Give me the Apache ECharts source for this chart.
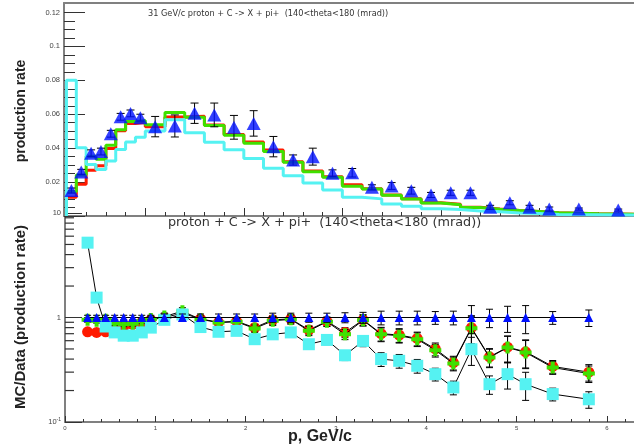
<!DOCTYPE html>
<html>
<head>
<meta charset="utf-8">
<script src="https://cdn.jsdelivr.net/npm/echarts@6/dist/echarts.min.js"></script>
<style>
  html, body { margin: 0; padding: 0; background: #fff; }
  #chart { width: 634px; height: 447px; }
</style>
</head>
<body>
<div id="chart"></div>
<script>
// Momentum bins (GeV/c): centres and edges
const pCenters = [0.25, 0.35, 0.45, 0.55, 0.65, 0.75, 0.85, 0.95,
  1.1, 1.3, 1.5, 1.7, 1.9, 2.1, 2.3, 2.5, 2.7, 2.9, 3.1, 3.3, 3.5, 3.7, 3.9,
  4.1, 4.3, 4.5, 4.7, 4.9, 5.1, 5.4, 5.8];
const binEdges = [0.2, 0.3, 0.4, 0.5, 0.6, 0.7, 0.8, 0.9, 1.0,
  1.2, 1.4, 1.6, 1.8, 2.0, 2.2, 2.4, 2.6, 2.8, 3.0, 3.2, 3.4, 3.6, 3.8,
  4.0, 4.2, 4.4, 4.6, 4.8, 5.0, 5.2, 5.6, 6.0];

// Measured production rate and its error
const dataRate = [0.0150, 0.0260, 0.0370, 0.0380, 0.0485, 0.0585, 0.0605, 0.0580,
  0.0527, 0.0531, 0.0606, 0.0596, 0.0523, 0.0546, 0.0409, 0.0330, 0.0350, 0.0252,
  0.0255, 0.0169, 0.0177, 0.0149, 0.0124, 0.0137, 0.0137, 0.0051, 0.0078, 0.0051,
  0.0041, 0.0041, 0.0035];
const dataErr = [0.0015, 0.0015, 0.002, 0.002, 0.002, 0.002, 0.002, 0.002,
  0.006, 0.0065, 0.006, 0.007, 0.007, 0.0075, 0.006, 0.003, 0.005, 0.002,
  0.0025, 0.0015, 0.002, 0.002, 0.0015, 0.0015, 0.0015, 0.0012, 0.0012, 0.0012,
  0.0012, 0.0006, 0.0006];

// Simulated production rate, three models (histograms)
const mcRed = [0.0110, 0.0187, 0.0270, 0.0296, 0.0398, 0.0503, 0.0545, 0.0551,
  0.0527, 0.0584, 0.0588, 0.0536, 0.0481, 0.0437, 0.0389, 0.0320, 0.0266, 0.0232,
  0.0184, 0.0161, 0.0124, 0.0101, 0.0078, 0.0069, 0.0051, 0.0041, 0.0033, 0.0027,
  0.0019, 0.0014, 0.0010];
const mcGreen = [0.0143, 0.0242, 0.0352, 0.0334, 0.0417, 0.0509, 0.0557, 0.0563,
  0.0538, 0.0611, 0.0582, 0.0533, 0.0476, 0.0429, 0.0380, 0.0317, 0.0261, 0.0229,
  0.0176, 0.0159, 0.0122, 0.0100, 0.0077, 0.0067, 0.0050, 0.0040, 0.0032, 0.0026,
  0.0019, 0.0014, 0.0010];
const mcCyan = [0.0800, 0.0403, 0.0303, 0.0274, 0.0325, 0.0392, 0.0436, 0.0464,
  0.0501, 0.0568, 0.0491, 0.0435, 0.0390, 0.0339, 0.0282, 0.0238, 0.0194, 0.0154,
  0.0111, 0.0101, 0.0071, 0.0057, 0.0043, 0.0039, 0.0029, 0.0025, 0.0018, 0.0015,
  0.0009, 0.0008, 0.0006];

// MC / Data ratios
const ratioRed = [0.73, 0.72, 0.73, 0.78, 0.82, 0.86, 0.90, 0.95,
  1.00, 1.10, 0.97, 0.90, 0.92, 0.80, 0.95, 0.97, 0.76, 0.92,
  0.72, 0.95, 0.70, 0.68, 0.63, 0.50, 0.37, 0.80, 0.42, 0.52, 0.47, 0.34, 0.30];
const ratioGreen = [0.95, 0.93, 0.95, 0.88, 0.86, 0.87, 0.92, 0.97,
  1.02, 1.15, 0.96, 0.895, 0.91, 0.785, 0.93, 0.96, 0.745, 0.91,
  0.69, 0.94, 0.69, 0.67, 0.62, 0.486, 0.363, 0.79, 0.414, 0.516, 0.463, 0.332, 0.291];
const ratioCyan = [5.2, 1.55, 0.82, 0.72, 0.67, 0.67, 0.72, 0.80,
  0.95, 1.07, 0.81, 0.73, 0.745, 0.62, 0.69, 0.72, 0.555, 0.61,
  0.435, 0.597, 0.40, 0.385, 0.345, 0.287, 0.214, 0.497, 0.23, 0.287, 0.23, 0.185, 0.165];
const ratioBlue = [1, 1, 1, 1, 1, 1, 1, 1, 1, 1, 1, 1, 1, 1, 1, 1,
  1, 1, 1, 1, 1, 1, 1, 1, 1, 1, 1, 1, 1, 1, 1];
// relative uncertainty of the data, used for every ratio
const ratioRelErr = [0.05, 0.05, 0.05, 0.05, 0.05, 0.05, 0.05, 0.05,
  0.08, 0.08, 0.08, 0.08, 0.08, 0.08, 0.1, 0.1, 0.1, 0.1,
  0.11, 0.12, 0.15, 0.15, 0.15, 0.14, 0.15, 0.30, 0.20, 0.28, 0.30, 0.14, 0.18];

// Axis tick positions
const topYMajor = [0, 0.02, 0.04, 0.06, 0.08, 0.1, 0.12];
const topYLabels = [0.02, 0.04, 0.06, 0.08, 0.1, 0.12];
const topYMinor = [0.005, 0.01, 0.015, 0.025, 0.03, 0.035, 0.045, 0.05, 0.055,
  0.065, 0.07, 0.075, 0.085, 0.09, 0.095, 0.105, 0.11, 0.115];
const topXMajor = [1, 2, 3, 4, 5];
const topXMinor = [0.4, 0.6, 0.8, 1.2, 1.4, 1.6, 1.8, 2.2, 2.4, 2.6, 2.8,
  3.2, 3.4, 3.6, 3.8, 4.2, 4.4, 4.6, 4.8, 5.2, 5.4, 5.6, 5.8];
const botXMajor = [0, 1, 2, 3, 4, 5, 6];
const botXMinor = [0.2, 0.4, 0.6, 0.8, 1.2, 1.4, 1.6, 1.8, 2.2, 2.4, 2.6, 2.8,
  3.2, 3.4, 3.6, 3.8, 4.2, 4.4, 4.6, 4.8, 5.2, 5.4, 5.6, 5.8, 6.2];
const botYMinor = [0.2, 0.3, 0.4, 0.5, 0.6, 0.7, 0.8, 0.9, 2, 3, 4, 5, 6, 7, 8, 9];

const COL = { red: '#ff1a00', green: '#3fe000', cyan: '#55f2f2', blue: '#0010ff' };
const FRAME = '#808080';
const LABEL_FONT = 'Liberation Sans';

// histogram outline as a polyline through the bin edges
function stepPoints(vals) {
  const pts = [[binEdges[0], 0]];
  vals.forEach((v, i) => { pts.push([binEdges[i], v], [binEdges[i + 1], v]); });
  pts.push([binEdges[vals.length], 0]);
  return pts;
}

function errorBars(capHalf) {
  return function (params, api) {
    const x = api.value(0), lo = api.value(1), hi = api.value(2);
    const a = api.coord([x, lo]), b = api.coord([x, hi]);
    const style = { stroke: '#000', lineWidth: 1 };
    return {
      type: 'group',
      children: [
        { type: 'line', shape: { x1: a[0], y1: a[1], x2: b[0], y2: b[1] }, style },
        { type: 'line', shape: { x1: a[0] - capHalf, y1: a[1], x2: a[0] + capHalf, y2: a[1] }, style },
        { type: 'line', shape: { x1: b[0] - capHalf, y1: b[1], x2: b[0] + capHalf, y2: b[1] }, style }
      ]
    };
  };
}

// 2..9 minor ticks of the log axis: short dashes inside the left edge
function logMinorTick(params, api) {
  const c = api.coord([api.value(0), api.value(1)]);
  return { type: 'rect', shape: { x: c[0], y: c[1] - 0.6, width: 9, height: 1.2 }, style: { fill: '#333' } };
}

const dataPoints = pCenters.map((p, i) => [p, dataRate[i]]);
const dataBars = pCenters.map((p, i) => [p, dataRate[i] - dataErr[i], dataRate[i] + dataErr[i]]);
const ratioPoints = arr => pCenters.map((p, i) => [p, arr[i]]);
const ratioBars = arr => pCenters.map((p, i) => [p, arr[i] * (1 - ratioRelErr[i]), arr[i] * (1 + ratioRelErr[i])]);

const crossPath = 'path://M1,0H2V1H3V2H2V3H1V2H0V1H1Z';

const hiddenLabel = { show: false };
const noSplit = { show: false };

const option = {
  animation: false,
  backgroundColor: '#ffffff',
  grid: [
    { left: 64, top: 3, width: 570, height: 213 },
    { left: 65, top: 213, width: 569, height: 209 }
  ],
  xAxis: [
    // upper pad
    { gridIndex: 0, type: 'value', min: 0.175, max: 5.96, position: 'bottom',
      axisLine: { lineStyle: { color: FRAME, width: 2 } },
      axisTick: { inside: true, length: 8, customValues: topXMajor, lineStyle: { color: '#333' } },
      axisLabel: hiddenLabel, splitLine: noSplit },
    { gridIndex: 0, type: 'value', min: 0.175, max: 5.96, position: 'bottom',
      axisLine: { show: false },
      axisTick: { inside: true, length: 4, customValues: topXMinor, lineStyle: { color: '#333' } },
      axisLabel: hiddenLabel, splitLine: noSplit },
    { gridIndex: 0, type: 'value', min: 0.175, max: 5.96, position: 'top',
      axisLine: { lineStyle: { color: FRAME, width: 2 } },
      axisTick: { show: false }, axisLabel: hiddenLabel, splitLine: noSplit },
    // lower pad
    { gridIndex: 1, type: 'value', min: 0, max: 6.3, position: 'bottom',
      axisLine: { lineStyle: { color: FRAME, width: 2 } },
      axisTick: { inside: true, length: 6, customValues: botXMajor, lineStyle: { color: '#333' } },
      axisLabel: { customValues: botXMajor, fontSize: 6, color: '#444', margin: 3, fontFamily: LABEL_FONT },
      splitLine: noSplit },
    { gridIndex: 1, type: 'value', min: 0, max: 6.3, position: 'bottom',
      axisLine: { show: false },
      axisTick: { inside: true, length: 3, customValues: botXMinor, lineStyle: { color: '#333' } },
      axisLabel: hiddenLabel, splitLine: noSplit }
  ],
  yAxis: [
    { gridIndex: 0, type: 'value', min: 0, max: 0.1256, position: 'left',
      axisLine: { lineStyle: { color: FRAME, width: 2 } },
      axisTick: { inside: true, length: 21, customValues: topYMajor, lineStyle: { color: '#333' } },
      axisLabel: { customValues: topYLabels, fontSize: 7.5, color: '#444', margin: 4, fontFamily: LABEL_FONT },
      splitLine: noSplit },
    { gridIndex: 0, type: 'value', min: 0, max: 0.1256, position: 'left',
      axisLine: { show: false },
      axisTick: { inside: true, length: 11, customValues: topYMinor, lineStyle: { color: '#333' } },
      axisLabel: hiddenLabel, splitLine: noSplit },
    { gridIndex: 1, type: 'log', logBase: 10, min: 0.1, max: 10, position: 'left',
      axisLine: { lineStyle: { color: FRAME, width: 2 } },
      axisTick: { inside: true, length: 17, lineStyle: { color: '#333' } },
      axisLabel: {
        fontSize: 7.5, color: '#444', margin: 4, fontFamily: LABEL_FONT,
        formatter: v => (v < 0.5 ? '{b|10}{s|-1}' : (v < 5 ? '1' : '10')),
        rich: { b: { fontSize: 7.5, color: '#444', fontFamily: LABEL_FONT },
                s: { fontSize: 5, color: '#444', verticalAlign: 'top', padding: [0, 0, 4, 0], fontFamily: LABEL_FONT } }
      },
      splitLine: noSplit }
  ],
  series: [
    // upper pad: model histograms
    { type: 'line', xAxisIndex: 0, yAxisIndex: 0, data: stepPoints(mcRed), showSymbol: false,
      lineStyle: { color: COL.red, width: 3 }, z: 2 },
    { type: 'line', xAxisIndex: 0, yAxisIndex: 0, data: stepPoints(mcGreen), showSymbol: false,
      lineStyle: { color: COL.green, width: 3 }, z: 3 },
    { type: 'line', xAxisIndex: 0, yAxisIndex: 0, data: stepPoints(mcCyan), showSymbol: false,
      lineStyle: { color: COL.cyan, width: 3 }, z: 4 },
    // upper pad: data with errors
    { type: 'custom', xAxisIndex: 0, yAxisIndex: 0, data: dataBars, renderItem: errorBars(4),
      encode: { x: 0, y: [1, 2] }, z: 5 },
    { type: 'scatter', xAxisIndex: 0, yAxisIndex: 0, data: dataPoints, symbol: 'triangle',
      symbolSize: [14, 13], itemStyle: { color: COL.blue }, z: 6 },

    // lower pad: minor ticks of the log axis
    { type: 'custom', xAxisIndex: 3, yAxisIndex: 2, data: botYMinor.map(v => [0, v]),
      encode: { x: 0, y: 1 }, renderItem: logMinorTick, z: 10 },
    // lower pad: ratios
    { type: 'custom', xAxisIndex: 3, yAxisIndex: 2, data: ratioBars(ratioRed), renderItem: errorBars(3.5),
      encode: { x: 0, y: [1, 2] }, z: 2 },
    { type: 'line', xAxisIndex: 3, yAxisIndex: 2, data: ratioPoints(ratioRed), symbol: 'circle',
      symbolSize: 11, itemStyle: { color: COL.red }, lineStyle: { color: '#000', width: 1 }, z: 3 },
    { type: 'custom', xAxisIndex: 3, yAxisIndex: 2, data: ratioBars(ratioGreen), renderItem: errorBars(3.5),
      encode: { x: 0, y: [1, 2] }, z: 4 },
    { type: 'line', xAxisIndex: 3, yAxisIndex: 2, data: ratioPoints(ratioGreen), symbol: crossPath,
      symbolSize: 12, itemStyle: { color: COL.green }, lineStyle: { color: '#000', width: 1 }, z: 5 },
    { type: 'custom', xAxisIndex: 3, yAxisIndex: 2, data: ratioBars(ratioCyan), renderItem: errorBars(3.5),
      encode: { x: 0, y: [1, 2] }, z: 6 },
    { type: 'line', xAxisIndex: 3, yAxisIndex: 2, data: ratioPoints(ratioCyan), symbol: 'rect',
      symbolSize: 12, itemStyle: { color: COL.cyan }, lineStyle: { color: '#000', width: 1 }, z: 7 },
    { type: 'custom', xAxisIndex: 3, yAxisIndex: 2, data: ratioBars(ratioBlue), renderItem: errorBars(3.5),
      encode: { x: 0, y: [1, 2] }, z: 8 },
    { type: 'line', xAxisIndex: 3, yAxisIndex: 2, data: ratioPoints(ratioBlue), symbol: 'triangle',
      symbolSize: 9, itemStyle: { color: COL.blue }, lineStyle: { color: '#000', width: 1 }, z: 9 }
  ],
  graphic: [
    { type: 'text', left: 148, top: 10, z: 20,
      style: { text: '31 GeV/c proton + C -> X + pi+  (140<theta<180 (mrad))',
               font: '8.2px "DejaVu Sans"', fill: '#333' } },
    { type: 'text', left: 168, top: 216, z: 20,
      style: { text: 'proton + C -> X + pi+  (140<theta<180 (mrad))',
               font: '12.8px "DejaVu Sans"', fill: '#333' } },
    { type: 'text', x: 21, y: 111, rotation: Math.PI / 2, z: 20,
      style: { text: 'production rate', font: 'bold 14px "Liberation Sans"', fill: '#222',
               align: 'center', verticalAlign: 'middle' } },
    { type: 'text', x: 21, y: 317, rotation: Math.PI / 2, z: 20,
      style: { text: 'MC/Data (production rate)', font: 'bold 15px "Liberation Sans"', fill: '#222',
               align: 'center', verticalAlign: 'middle' } },
    { type: 'text', x: 320, y: 437, z: 20,
      style: { text: 'p, GeV/c', font: 'bold 16px "Liberation Sans"', fill: '#222',
               align: 'center', verticalAlign: 'middle' } }
  ]
};

const chart = echarts.init(document.getElementById('chart'), null, { renderer: 'canvas' });
chart.setOption(option);
</script>
</body>
</html>
